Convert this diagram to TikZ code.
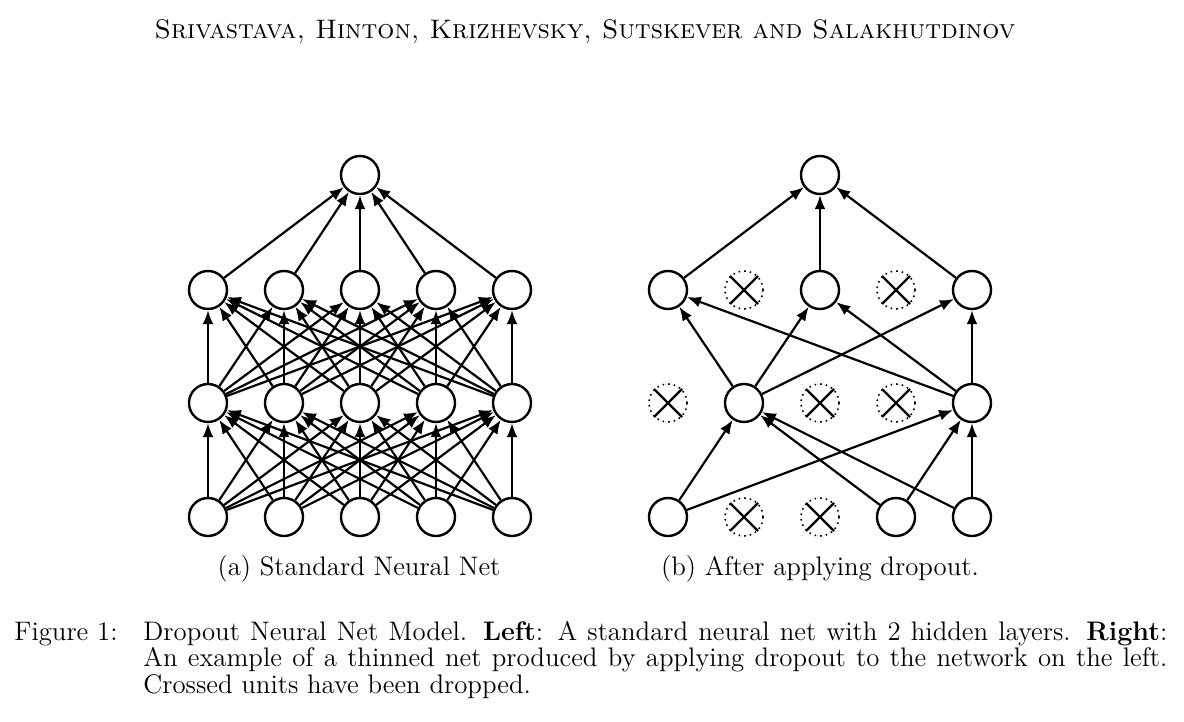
\documentclass[tikz,border=0pt]{standalone}
\usetikzlibrary{arrows.meta}
\begin{document}
\begin{tikzpicture}[x=0.5pt,y=-0.5pt,
  unit/.style={circle,draw,line width=1.2pt,minimum size=19pt,inner sep=0pt},
  dropped/.style={circle,draw,dotted,line width=0.8pt,minimum size=19pt,inner sep=0pt},
  conn/.style={line width=1.1pt,-{Latex[length=7pt,width=5.5pt]}},
  xline/.style={line width=1.1pt},
  txt/.style={font=\fontsize{13.4}{13.3}\selectfont}]
\useasboundingbox (0,0) rectangle (1184,722);
\node[txt] at (585,32) {\textsc{Srivastava, Hinton, Krizhevsky, Sutskever and Salakhutdinov}};
% left network
\node[unit] (lo) at (360,175) {};
\foreach \i/\x in {1/208,2/284,3/360,4/436,5/512}{
  \node[unit] (lh\i) at (\x,290) {};
  \node[unit] (lg\i) at (\x,403) {};
  \node[unit] (li\i) at (\x,517) {};
}
\foreach \i in {1,...,5}{
  \draw[conn] (lh\i) -- (lo);
  \foreach \j in {1,...,5}{
    \draw[conn] (lg\i) -- (lh\j);
    \draw[conn] (li\i) -- (lg\j);
  }
}
% right network
\node[unit] (ro) at (820,175) {};
\node[unit] (rh1) at (668,290) {};
\node[dropped] (rh2) at (744,290) {};
\node[unit] (rh3) at (820,290) {};
\node[dropped] (rh4) at (896,290) {};
\node[unit] (rh5) at (972,290) {};
\node[dropped] (rg1) at (668,403) {};
\node[unit] (rg2) at (744,403) {};
\node[dropped] (rg3) at (820,403) {};
\node[dropped] (rg4) at (896,403) {};
\node[unit] (rg5) at (972,403) {};
\node[unit] (ri1) at (668,517) {};
\node[dropped] (ri2) at (744,517) {};
\node[dropped] (ri3) at (820,517) {};
\node[unit] (ri4) at (896,517) {};
\node[unit] (ri5) at (972,517) {};
\foreach \n in {rh2,rh4,rg1,rg3,rg4,ri2,ri3}{
  \draw[xline] (\n.north west) -- (\n.south east);
  \draw[xline] (\n.north east) -- (\n.south west);
}
\foreach \a/\b in {rh1/ro,rh3/ro,rh5/ro,
  rg2/rh1,rg2/rh3,rg2/rh5,rg5/rh1,rg5/rh3,rg5/rh5,
  ri1/rg2,ri1/rg5,ri4/rg2,ri4/rg5,ri5/rg2,ri5/rg5}
  \draw[conn] (\a) -- (\b);
% captions
\node[txt] at (359,569) {(a) Standard Neural Net};
\node[txt] at (820,569) {(b) After applying dropout.};
\node[txt,anchor=base west,inner sep=0pt] (fl) at (14,640) {Figure 1:};
\node[txt,anchor=base west,inner sep=0pt,text width=512pt,align=justify] (fc) at (143,640)
 {Dropout Neural Net Model. \textbf{Left}: A standard neural net with 2 hidden layers. \textbf{Right}:\linebreak An example of a thinned net produced by applying dropout to the network on the left.\linebreak Crossed units have been dropped.};
\end{tikzpicture}
\end{document}
